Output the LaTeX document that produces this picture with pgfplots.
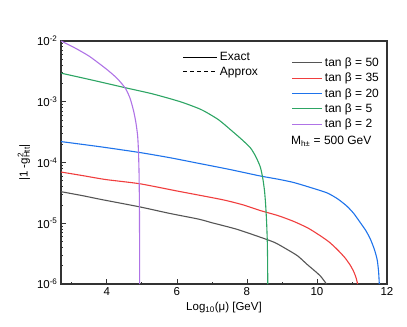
\documentclass[border=0pt]{standalone}
\usepackage{fontspec}
\setmainfont{Liberation Sans}
\usepackage{pgfplots}
\pgfplotsset{compat=1.18}
\definecolor{c50}{RGB}{85,85,85}
\definecolor{c35}{RGB}{240,62,62}
\definecolor{c20}{RGB}{30,115,235}
\definecolor{c5}{RGB}{45,165,100}
\definecolor{c2}{RGB}{175,115,230}
\begin{document}
\begin{tikzpicture}
\begin{axis}[name=main, scale only axis, width=326pt, height=243pt,
  xmin=2.69, xmax=12, ymode=log, ymin=1e-6, ymax=1e-2,
  xtick={4,6,8,10,12}, minor xtick={3,5,7,9,11},
  ytick={1e-6,1e-5,1e-4,1e-3,1e-2},
  yticklabels={10\textsuperscript{-6},10\textsuperscript{-5},10\textsuperscript{-4},10\textsuperscript{-3},10\textsuperscript{-2}},
  xticklabel style={/pgf/number format/assume math mode=true},
  tick pos=left, tick align=inside, major tick length=5pt, minor tick length=2.5pt,
  axis line style={line width=1.1pt, black!80}, tick style={black!80, line width=0.8pt},
  font=\fontsize{11.5}{13}\selectfont, clip=false,
  xlabel={Log\textsubscript{10}(μ) [GeV]},
  ylabel={|1 -g{\rlap{\textsuperscript{2}}}\textsubscript{Htt}|},
  legend style={at={(rel axis cs:0.985,0.945)}, anchor=north east, draw=none, fill=none,
    row sep=1.2pt, inner sep=1pt, font=\fontsize{12}{13}\selectfont},
  legend cell align=left,
  legend image code/.code={\draw[#1] (0pt,0pt) -- (30pt,0pt);},
  every axis plot/.append style={line width=1.1pt, smooth, tension=0.4}]
\addplot[c50] coordinates {(2.69,3.31e-5)(3.3,2.85e-5)(3.86,2.45e-5)(4.94,1.86e-5)(5.8,1.45e-5)(6.62,1.17e-5)(7.0,1.02e-5)(7.7,8.0e-6)(8.38,5.9e-6)(8.8,4.8e-6)(9.15,3.7e-6)(9.45,2.9e-6)(9.72,2.1e-6)(9.95,1.62e-6)(10.10,1.35e-6)(10.2,1.14e-6)(10.27,1e-6)};
\addlegendentry{tan β = 50}
\addplot[c35] coordinates {(2.69,6.97e-5)(3.3,6.1e-5)(3.96,5.25e-5)(4.94,4.47e-5)(6.0,3.4e-5)(7.29,2.45e-5)(7.9,2.0e-5)(8.38,1.62e-5)(8.9,1.33e-5)(9.34,1.07e-5)(9.75,8.3e-6)(10.10,6.2e-6)(10.35,4.9e-6)(10.58,3.7e-6)(10.8,2.7e-6)(10.96,2.0e-6)(11.06,1.55e-6)(11.12,1.25e-6)(11.16,1e-6)};
\addlegendentry{tan β = 35}
\addplot[c20] coordinates {(2.69,2.21e-4)(3.8,1.82e-4)(4.94,1.46e-4)(5.8,1.2e-4)(6.5,1.0e-4)(7.5,7.7e-5)(8.38,6.0e-5)(8.9,5.3e-5)(9.34,4.68e-5)(9.8,3.9e-5)(10.29,3.16e-5)(10.6,2.5e-5)(10.86,1.9e-5)(11.05,1.45e-5)(11.24,1.02e-5)(11.4,7.5e-6)(11.53,5.4e-6)(11.64,3.7e-6)(11.72,2.5e-6)(11.76,1.6e-6)(11.78,1e-6)};
\addlegendentry{tan β = 20}
\addplot[c5] coordinates {(2.70,2.95e-3)(3.6,2.26e-3)(4.53,1.7e-3)(5.3,1.35e-3)(6.10,1.0e-3)(6.7,7.4e-4)(7.18,5.1e-4)(7.53,3.47e-4)(7.85,2.4e-4)(8.10,1.74e-4)(8.25,1.26e-4)(8.38,8.5e-5)(8.45,5.6e-5)(8.5,3.5e-5)(8.53,2.2e-5)(8.56,1.1e-5)(8.58,5.4e-6)(8.59,2.5e-6)(8.595,1e-6)};
\addlegendentry{tan β = 5}
\addplot[c2] coordinates {(2.69,1.0e-2)(3.05,7.9e-3)(3.5,5.6e-3)(4.0,3.4e-3)(4.3,2.4e-3)(4.53,1.66e-3)(4.66,1.15e-3)(4.76,7.2e-4)(4.83,4.5e-4)(4.88,2.7e-4)(4.905,1.4e-4)(4.92,6.3e-5)(4.928,2.5e-5)(4.933,8e-6)(4.936,1e-6)};
\addlegendentry{tan β = 2}
\node[anchor=west, inner sep=0pt, font=\fontsize{12}{13}\selectfont] at (rel axis cs:0.705,0.586) {M\textsubscript{h±} = 500 GeV};
\path (rel axis cs:0,0) ++(-61pt,-42pt) (rel axis cs:1,1) ++(20pt,41pt);
\end{axis}
\begin{axis}[at={(main.south west)}, anchor=south west, scale only axis, width=326pt, height=243pt,
  hide axis, xmin=0, xmax=1, ymin=0, ymax=1,
  legend style={at={(rel axis cs:0.37,0.965)}, anchor=north west, draw=none, fill=none,
    row sep=0.5pt, inner sep=1pt, font=\fontsize{12}{13}\selectfont},
  legend cell align=left,
  legend image code/.code={\draw[#1] (0pt,0pt) -- (34pt,0pt);}]
\addlegendimage{black, line width=1.1pt}
\addlegendentry{Exact}
\addlegendimage{black, line width=1.1pt, dash pattern=on 4pt off 3pt}
\addlegendentry{Approx}
\end{axis}
\end{tikzpicture}
\end{document}
